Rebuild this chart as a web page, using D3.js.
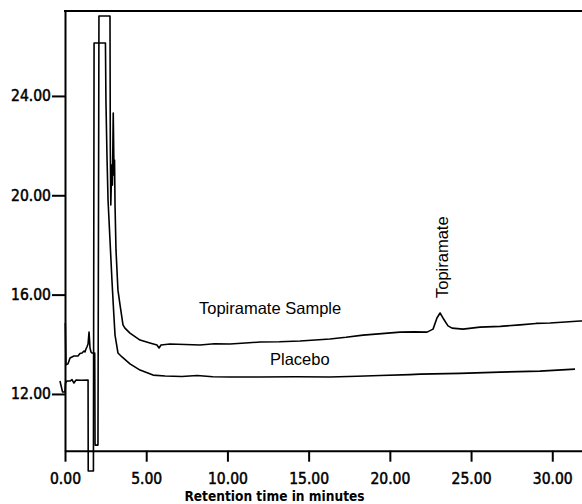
<!DOCTYPE html>
<html>
<head>
<meta charset="utf-8">
<script src="https://cdn.jsdelivr.net/npm/d3@7"></script>
<style>
  body { margin: 0; background: #fff; }
  svg { display: block; }
  .axis text { font-family: "DejaVu Sans Condensed", "DejaVu Sans", sans-serif; font-stretch: condensed; font-size: 15.5px; fill: #000; stroke: #000; stroke-width: 0.5px; }
  .axis path, .axis line { stroke: #000; stroke-width: 2px; }
  .trace { fill: none; stroke: #000; stroke-width: 1.6px; stroke-linejoin: round; }
  .note { font-family: "Liberation Sans", Arial, sans-serif; font-size: 16.5px; fill: #000; }
  .xtitle { font-family: "DejaVu Sans Condensed", "DejaVu Sans", sans-serif; font-stretch: condensed; font-weight: bold; font-size: 13.6px; fill: #000; }
</style>
</head>
<body>
<div id="chart"></div>
<script>
// retention time (min) / response
var sampleTime = [0.02, 0.06, 0.18, 0.31, 0.55, 0.80, 0.92, 1.05, 1.17, 1.23, 1.29, 1.35, 1.42, 1.48, 1.54, 1.60, 1.66, 1.83, 1.85, 2.03, 2.09, 2.77,
    2.79, 2.82, 2.88, 2.92, 2.97, 3.02, 3.05, 3.08, 3.14, 3.26, 3.39, 3.57, 3.69, 4.00, 4.62, 5.23, 5.66, 5.79, 5.91, 6.46, 7.4, 8.31, 9.2, 10.16,
    11.1, 12.01, 13.2, 14.47, 15.4, 16.31, 17.3, 18.35, 19.5, 20.63, 21.5, 22.29, 22.66, 22.90, 23.09, 23.27, 23.58, 23.83, 24.50, 25.55, 26.8,
    28.01, 29.0, 29.86, 30.8, 31.71, 31.83];
var sampleValue = [14.86, 13.17, 13.21, 13.45, 13.53, 13.53, 13.63, 13.65, 13.73, 13.69, 13.81, 13.89, 14.01, 14.49, 13.85, 13.69, 13.65, 13.65, 9.94, 9.94, 27.22, 27.22,
    21.82, 19.61, 21.22, 20.41, 23.31, 20.81, 21.42, 19.61, 17.79, 16.18, 15.58, 14.78, 14.65, 14.45, 14.17, 14.05, 13.97, 13.85, 13.97, 14.01, 13.99, 13.97, 14.02, 14.01,
    14.05, 14.09, 14.10, 14.13, 14.17, 14.21, 14.28, 14.37, 14.43, 14.49, 14.50, 14.49, 14.61, 15.06, 15.26, 15.06, 14.74, 14.65, 14.61, 14.69, 14.72,
    14.78, 14.84, 14.86, 14.90, 14.94, 14.94];

var placeboTime = [-0.31, -0.15, 0.00, 0.03, 0.12, 0.31, 0.43, 0.55, 0.68, 1.0, 1.42, 1.43, 1.75, 1.79, 2.49, 2.52, 2.59, 2.65, 2.77, 2.89, 2.99, 3.08,
    3.26, 3.51, 4.00, 4.62, 5.42, 6.16, 7.2, 8.13, 9.1, 10.16, 12.01, 14.2, 16.31, 18.0, 19.39, 21.24, 21.86, 24.32, 26.78, 29.24, 31.40];
var placeboValue = [12.52, 12.08, 12.08, 12.44, 12.52, 12.52, 12.58, 12.44, 12.56, 12.55, 12.56, 8.90, 8.90, 26.13, 26.13, 23.83, 21.42, 19.81, 18.20, 16.59, 15.38, 14.37,
    13.65, 13.49, 13.21, 12.96, 12.76, 12.72, 12.70, 12.74, 12.69, 12.68, 12.68, 12.69, 12.68, 12.71, 12.74, 12.78, 12.80, 12.83, 12.88, 12.92, 13.00];

var xTicks = [0, 5, 10, 15, 20, 25, 30];
var yTicks = [12, 16, 20, 24];

var labels = [
    {text: 'Topiramate Sample', t: 8.25, v: 15.22},
    {text: 'Placebo', t: 12.62, v: 13.17}
];
var peakName = 'Topiramate';
var peakT = 23.09, peakV = 15.26;
var xTitle = 'Retention time in minutes';

var W = 582, H = 504;
var svg = d3.select('#chart').append('svg')
    .attr('width', W)
    .attr('height', H);

var x = d3.scaleLinear().domain([0, 31.83]).range([65, 582]);
var y = d3.scaleLinear().domain([9.715, 27.42]).range([450.7, 11]);

// axes
svg.append('g')
    .attr('class', 'axis axis--x')
    .attr('transform', 'translate(0,450.7)')
    .call(d3.axisBottom(x).tickValues(xTicks).tickFormat(d3.format('.2f'))
        .tickSize(11).tickSizeOuter(0).tickPadding(11));

svg.append('g')
    .attr('class', 'axis axis--y')
    .attr('transform', 'translate(65,0)')
    .call(d3.axisLeft(y).tickValues(yTicks).tickFormat(d3.format('.2f'))
        .tickSize(13).tickSizeOuter(0).tickPadding(1));

// top border of the frame
svg.append('line')
    .attr('x1', 64).attr('x2', W)
    .attr('y1', y.range()[1]).attr('y2', y.range()[1])
    .attr('stroke', '#000').attr('stroke-width', 2);

var line = d3.line()
    .x(function(d) { return x(d[0]); })
    .y(function(d) { return y(d[1]); });

svg.append('path')
    .attr('class', 'trace')
    .attr('d', line(d3.zip(sampleTime, sampleValue)));

svg.append('path')
    .attr('class', 'trace')
    .attr('d', line(d3.zip(placeboTime, placeboValue)));

svg.selectAll('.note.lbl')
    .data(labels)
    .enter().append('text')
    .attr('class', 'note lbl')
    .attr('x', function(d) { return x(d.t); })
    .attr('y', function(d) { return y(d.v); })
    .text(function(d) { return d.text; });

svg.append('text')
    .attr('class', 'note')
    .attr('transform', 'translate(' + (x(peakT) + 8) + ',' + (y(peakV) - 15) + ') rotate(-90)')
    .text(peakName);

svg.append('text')
    .attr('class', 'xtitle')
    .attr('x', 274.5)
    .attr('y', 500.5)
    .attr('text-anchor', 'middle')
    .text(xTitle);
</script>
</body>
</html>
